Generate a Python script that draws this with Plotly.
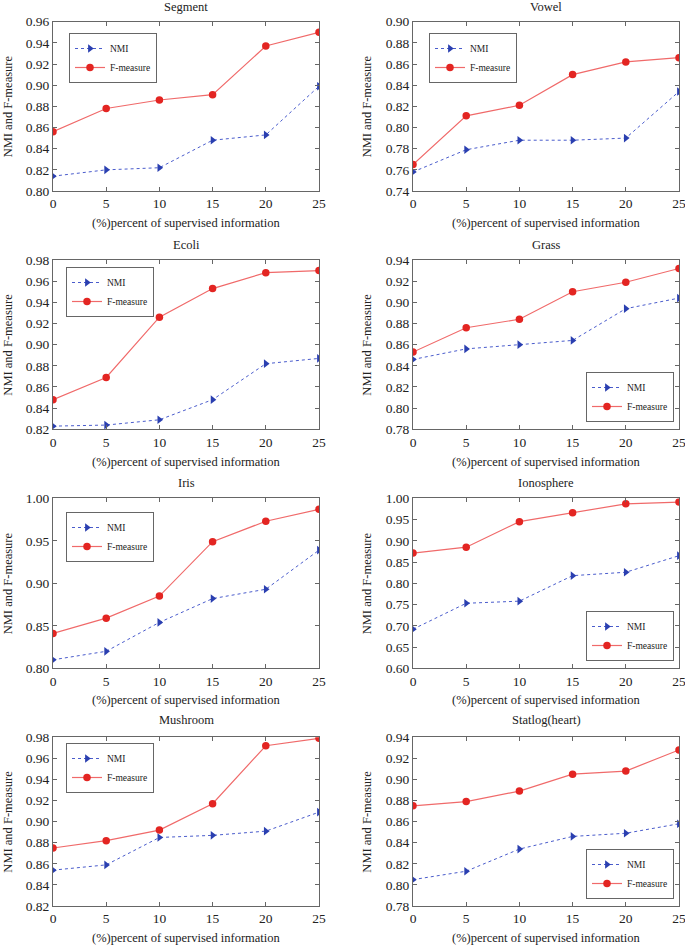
import plotly.graph_objects as go

x_pct = [0, 5, 10, 15, 20, 25]
x_ticks = [0, 5, 10, 15, 20, 25]

titles = ["Segment", "Vowel", "Ecoli", "Grass", "Iris", "Ionosphere", "Mushroom", "Statlog(heart)"]

segment_nmi = [0.814, 0.820, 0.822, 0.848, 0.853, 0.899]
segment_f = [0.856, 0.878, 0.886, 0.891, 0.937, 0.950]
vowel_nmi = [0.758, 0.779, 0.788, 0.788, 0.790, 0.834]
vowel_f = [0.765, 0.811, 0.821, 0.850, 0.862, 0.866]
ecoli_nmi = [0.823, 0.824, 0.829, 0.848, 0.882, 0.887]
ecoli_f = [0.848, 0.869, 0.926, 0.953, 0.968, 0.970]
grass_nmi = [0.846, 0.856, 0.860, 0.864, 0.894, 0.904]
grass_f = [0.853, 0.876, 0.884, 0.910, 0.919, 0.932]
iris_nmi = [0.810, 0.820, 0.854, 0.882, 0.893, 0.939]
iris_f = [0.841, 0.859, 0.885, 0.949, 0.973, 0.987]
iono_nmi = [0.692, 0.753, 0.758, 0.818, 0.826, 0.865]
iono_f = [0.871, 0.885, 0.945, 0.966, 0.987, 0.991]
mush_nmi = [0.854, 0.859, 0.885, 0.887, 0.891, 0.909]
mush_f = [0.875, 0.882, 0.892, 0.917, 0.972, 0.979]
statlog_nmi = [0.805, 0.813, 0.834, 0.846, 0.849, 0.858]
statlog_f = [0.875, 0.879, 0.889, 0.905, 0.908, 0.928]

nmi_series = [segment_nmi, vowel_nmi, ecoli_nmi, grass_nmi, iris_nmi, iono_nmi, mush_nmi, statlog_nmi]
f_series = [segment_f, vowel_f, ecoli_f, grass_f, iris_f, iono_f, mush_f, statlog_f]

y_ranges = [(0.80, 0.96), (0.74, 0.90), (0.82, 0.98), (0.78, 0.94),
            (0.80, 1.00), (0.60, 1.00), (0.82, 0.98), (0.78, 0.94)]
y_dticks = [0.02, 0.02, 0.02, 0.02, 0.05, 0.05, 0.02, 0.02]

W, H = 685, 946
FONT = "Liberation Serif, Times New Roman, serif"

# layout geometry in pixels
col_x = [(53, 319), (413, 679)]
row_y = [(21.7, 191), (260, 429.3), (498.3, 668.3), (737.3, 906)]
title_y = [7, 245, 483, 720]
xtitle_y = [222.7, 461.7, 700, 937.7]
ytitle_x = [8, 367]
# legend boxes (left, top) in pixels
legend_pos = [(69, 33), (429, 33), (66, 267), (586, 372),
              (66, 512), (586, 611), (66, 743), (586, 849)]

fig = go.Figure()
layout = dict(
    width=W, height=H,
    margin=dict(l=0, r=0, t=0, b=0),
    plot_bgcolor="white", paper_bgcolor="white",
    font=dict(family=FONT, size=13, color="#222"),
    annotations=[],
)

for i in range(8):
    r, c = divmod(i, 2)
    ax = "" if i == 0 else str(i + 1)
    lg = "legend" if i == 0 else f"legend{i + 1}"
    x0, x1 = col_x[c]
    yt, yb = row_y[r]
    xdom = [x0 / W, x1 / W]
    ydom = [1 - yb / H, 1 - yt / H]
    fig.add_trace(go.Scatter(
        x=x_pct, y=nmi_series[i], mode="lines+markers", name="NMI",
        line=dict(color="#4a5ccc", width=1, dash="dot"),
        marker=dict(symbol="triangle-right", size=7.5, color="#2a3fb0"),
        xaxis="x" + ax, yaxis="y" + ax, legend=lg,
    ))
    fig.add_trace(go.Scatter(
        x=x_pct, y=f_series[i], mode="lines+markers", name="F-measure",
        line=dict(color="#f06a6a", width=1.2),
        marker=dict(symbol="circle", size=7.5, color="#e32522"),
        xaxis="x" + ax, yaxis="y" + ax, legend=lg,
    ))
    axis_common = dict(showline=True, linecolor="#666", linewidth=1, mirror="ticks",
                       ticks="inside", ticklen=4, tickcolor="#666", showgrid=False,
                       zeroline=False, tickfont=dict(family=FONT, size=13.5, color="#222"),
                       automargin=False, ticklabeloverflow="allow")
    layout["xaxis" + ax] = dict(domain=xdom, range=[0, 25], tickvals=x_ticks,
                                anchor="y" + ax, **axis_common)
    lo, hi = y_ranges[i]
    layout["yaxis" + ax] = dict(domain=ydom, range=[lo, hi], dtick=y_dticks[i],
                                tick0=lo, tickformat=".2f", anchor="x" + ax,
                                **axis_common)
    lx, ly = legend_pos[i]
    layout[lg] = dict(x=lx / W, y=1 - ly / H, xanchor="left", yanchor="top",
                      bordercolor="#666", borderwidth=1, bgcolor="white",
                      font=dict(family=FONT, size=9.5, color="#222"),
                      itemwidth=30, tracegroupgap=0)
    cx = (x0 + x1) / 2
    layout["annotations"].append(dict(
        text=titles[i], x=cx / W, y=1 - title_y[r] / H, xref="paper", yref="paper",
        xanchor="center", yanchor="middle", showarrow=False,
        font=dict(family=FONT, size=12.5, color="#222")))
    layout["annotations"].append(dict(
        text="(%)percent of supervised information", x=cx / W, y=1 - xtitle_y[r] / H,
        xref="paper", yref="paper", xanchor="center", yanchor="middle", showarrow=False,
        font=dict(family=FONT, size=12.5, color="#222")))
    layout["annotations"].append(dict(
        text="NMI and F-measure", x=ytitle_x[c] / W, y=1 - (yt + yb) / 2 / H,
        xref="paper", yref="paper", xanchor="center", yanchor="middle", showarrow=False,
        textangle=-90, font=dict(family=FONT, size=12.5, color="#222")))

fig.update_layout(**layout)
fig.write_html("out.html", config={"displayModeBar": False},
               post_script="document.body.style.margin='0';")
